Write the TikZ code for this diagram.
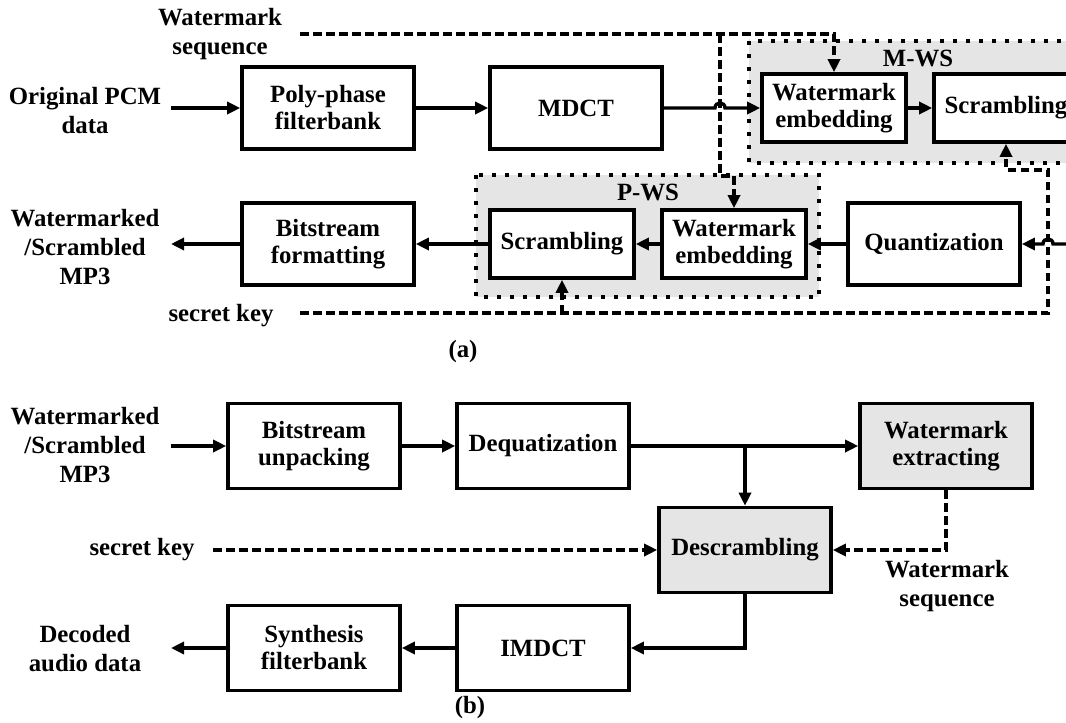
\documentclass[tikz,border=0pt]{standalone}
\usepackage{fontspec}
\setmainfont{Liberation Serif}
\usetikzlibrary{arrows.meta}
\definecolor{panelgray}{RGB}{229,229,229}
\tikzset{
  every node/.style={font=\fontsize{24.8}{27}\selectfont\bfseries},
  blk/.style={draw, line width=3.6pt, fill=white, minimum width=172pt,
              minimum height=82pt, align=center, inner sep=0pt},
  blkB/.style={blk, minimum height=85pt},
  sblk/.style={blk, minimum width=144pt, minimum height=68pt},
  gfill/.style={fill=panelgray},
  grp/.style={draw, line width=3.4pt, dash pattern=on 4pt off 9pt, fill=panelgray},
  sig/.style={line width=3.4pt, -{Triangle[length=13pt,width=12pt]}},
  ctl/.style={sig, dash pattern=on 8.5pt off 4.5pt},
  lbl/.style={align=center, inner sep=0pt, font=\fontsize{24.8}{29}\selectfont\bfseries}
}
\begin{document}
\begin{tikzpicture}[x=1pt,y=-1pt]
\clip (0,0) rectangle (1066,723);

% ---------------- (a) encoder ----------------
% shaded groups
\path[grp] (749,41) rectangle (1095,163);
\path[grp] (476,175) rectangle (819,297);
\node (mws) at (918,58) {M-WS};
\node (pws) at (648,192) {P-WS};

% processing blocks
\node[blk]  (poly)  at (328,108) {Poly-phase\\filterbank};
\node[blk]  (mdct)  at (576,108) {MDCT};
\node[sblk] (weM)   at (834,108) {Watermark\\embedding};
\node[sblk] (scrM)  at (1006,108) {Scrambling};
\node[blk]  (quant) at (934,244) {Quantization};
\node[sblk] (weP)   at (734,244) {Watermark\\embedding};
\node[sblk] (scrP)  at (562,244) {Scrambling};
\node[blk]  (bsf)   at (328,244) {Bitstream\\formatting};

% labels
\node[lbl] (wsA)  at (220,34)  {Watermark\\sequence};
\node[lbl] (pcm)  at (85,111)  {Original PCM\\data};
\node[lbl] (outA) at (85,247)  {Watermarked\\/Scrambled\\MP3};
\node[lbl] (skA)  at (221,316) {secret key};
\node[lbl] (capA) at (463,352) {(a)};

% free ends and bends
\coordinate (pcmEnd)  at (171,108);
\coordinate (outAEnd) at (171,244);
\coordinate (qIn)     at (1075,244);
\coordinate (wsA0)    at (300,34);
\coordinate (wsTurn)  at (834,34);
\coordinate (wsBr)    at (720,34);
\coordinate (wsBr1)   at (720,176);
\coordinate (wsBr2)   at (734,176);
\coordinate (skA0)    at (300,313);
\coordinate (skC)     at (1048,313);
\coordinate (skD)     at (1048,170);
\coordinate (skE)     at (1006,170);
\coordinate (skBr)    at (562,313);

% signal path
\draw[sig] (pcmEnd) -- (poly.west);
\draw[sig] (poly) -- (mdct);
\draw[sig] (mdct.east) -- (715,108) .. controls (715,101.3) and (725,101.3) .. (725,108) -- (weM.west);
\draw[sig] (weM) -- (scrM);
\draw[sig] (qIn) -- (1053,244) .. controls (1053,237.3) and (1043,237.3) .. (1043,244) -- (quant.east);
\draw[sig] (quant) -- (weP);
\draw[sig] (weP) -- (scrP);
\draw[sig] (scrP) -- (bsf);
\draw[sig] (bsf.west) -- (outAEnd);

% watermark sequence and secret key
\draw[ctl] (wsA0) -- (wsTurn) -- (weM.north);
\draw[ctl] (wsBr) -- (wsBr1) -- (wsBr2) -- (weP.north);
\draw[ctl] (skA0) -- (skC) -- (skD) -- (skE) -- (scrM.south);
\draw[ctl] (skBr) -- (scrP.south);

% ---------------- (b) decoder ----------------
\node[blkB]        (bsu)   at (314,446) {Bitstream\\unpacking};
\node[blkB]        (deq)   at (543,446) {Dequatization};
\node[blkB, gfill] (wex)   at (946,446) {Watermark\\extracting};
\node[blkB, gfill] (desc)  at (745,550) {Descrambling};
\node[blkB]        (imdct) at (543,648) {IMDCT};
\node[blkB]        (synth) at (314,648) {Synthesis\\filterbank};

\node[lbl] (inB)  at (85,445)  {Watermarked\\/Scrambled\\MP3};
\node[lbl] (skB)  at (142,550) {secret key};
\node[lbl] (wsB)  at (947,586) {Watermark\\sequence};
\node[lbl] (outB) at (85,649)  {Decoded\\audio data};
\node[lbl] (capB) at (470,708) {(b)};

\coordinate (inBEnd)  at (171,446);
\coordinate (outBEnd) at (171,648);
\coordinate (brB)     at (745,446);
\coordinate (skB0)    at (213,550);

\draw[sig] (inBEnd) -- (bsu.west);
\draw[sig] (bsu) -- (deq);
\draw[sig] (deq) -- (wex);
\draw[sig] (brB) -- (desc.north);
\draw[ctl] (skB0) -- (desc.west);
\draw[ctl] (wex.south) |- (desc.east);
\draw[sig] (desc.south) |- (imdct.east);
\draw[sig] (imdct) -- (synth);
\draw[sig] (synth.west) -- (outBEnd);
\end{tikzpicture}
\end{document}
